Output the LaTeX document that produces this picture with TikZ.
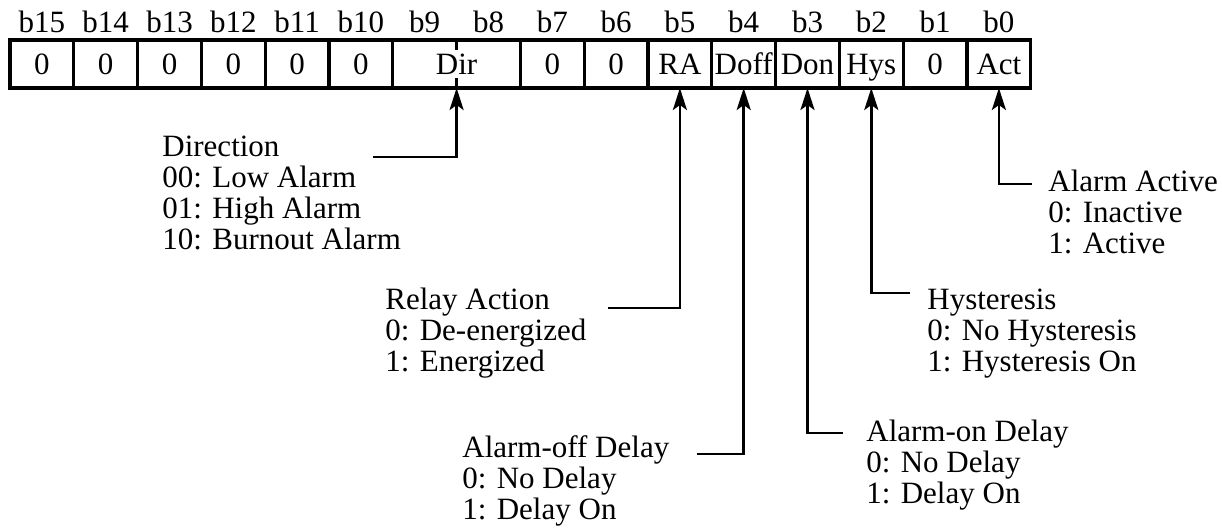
\documentclass[tikz,border=0pt]{standalone}
\usepackage{fontspec}
\setmainfont{Liberation Serif}
\usetikzlibrary{arrows.meta, positioning}

\begin{document}
\begin{tikzpicture}[
x=0.5pt, y=-0.5pt,
font=\fontsize{15.5}{15.5}\selectfont,
node distance=0pt,
box/.style={rectangle, draw=black, line width=1.6pt, outer sep=0pt, inner sep=0pt, minimum width=31.9pt, minimum height=24pt, text height=10.5pt, text depth=0pt},
widebox/.style={box, minimum width=63.8pt},
bit/.style={anchor=base, inner sep=0pt},
desc/.style={anchor=base west, align=left, inner sep=0pt},
line/.style={-{Stealth[length=11pt, width=7pt, inset=2.5pt]}, line width=1.35pt},
divider/.style={line width=1.4pt, dash pattern=on 5pt off 14pt}
]
\useasboundingbox (0,0) rectangle (1222,528);

% register cells
\node[box] (c15) at (41.9,64) {0};
\node[box, right=of c15] (c14) {0};
\node[box, right=of c14] (c13) {0};
\node[box, right=of c13] (c12) {0};
\node[box, right=of c12] (c11) {0};
\node[box, right=of c11] (c10) {0};
\node[widebox, right=of c10] (dir) {Dir};
\node[box, right=of dir] (c7) {0};
\node[box, right=of c7] (c6) {0};
\node[box, right=of c6] (c5) {RA};
\node[box, right=of c5] (c4) {Doff};
\node[box, right=of c4] (c3) {Don};
\node[box, right=of c3] (c2) {Hys};
\node[box, right=of c2] (c1) {0};
\node[box, right=of c1] (c0) {Act};

\draw[divider] (dir.north) -- (dir.south);

% bit numbers
\node[bit] (l15) at ([yshift=3.5pt]c15.north) {b15};
\node[bit] (l14) at ([yshift=3.5pt]c14.north) {b14};
\node[bit] (l13) at ([yshift=3.5pt]c13.north) {b13};
\node[bit] (l12) at ([yshift=3.5pt]c12.north) {b12};
\node[bit] (l11) at ([yshift=3.5pt]c11.north) {b11};
\node[bit] (l10) at ([yshift=3.5pt]c10.north) {b10};
\node[bit] (l9) at ([xshift=-15.95pt, yshift=3.5pt]dir.north) {b9};
\node[bit] (l8) at ([xshift=15.95pt, yshift=3.5pt]dir.north) {b8};
\node[bit] (l7) at ([yshift=3.5pt]c7.north) {b7};
\node[bit] (l6) at ([yshift=3.5pt]c6.north) {b6};
\node[bit] (l5) at ([yshift=3.5pt]c5.north) {b5};
\node[bit] (l4) at ([yshift=3.5pt]c4.north) {b4};
\node[bit] (l3) at ([yshift=3.5pt]c3.north) {b3};
\node[bit] (l2) at ([yshift=3.5pt]c2.north) {b2};
\node[bit] (l1) at ([yshift=3.5pt]c1.north) {b1};
\node[bit] (l0) at ([yshift=3.5pt]c0.north) {b0};

% field descriptions (placed by the baseline of their last line)
\node[desc] (dirtxt) at (162,250) {Direction\\00: Low Alarm\\01: High Alarm\\10: Burnout Alarm};
\node[desc] (ratxt) at (385,372) {Relay Action\\0: De-energized\\1: Energized};
\node[desc] (dofftxt) at (462,520) {Alarm-off Delay\\0: No Delay\\1: Delay On};
\node[desc] (dontxt) at (866,504) {Alarm-on Delay\\0: No Delay\\1: Delay On};
\node[desc] (hystxt) at (927,372) {Hysteresis\\0: No Hysteresis\\1: Hysteresis On};
\node[desc] (acttxt) at (1048,254) {Alarm Active\\0: Inactive\\1: Active};

% connectors
\coordinate (dirjoin) at (373,157);
\coordinate (rajoin) at (608,308);
\coordinate (doffjoin) at (697,454);
\coordinate (donjoin) at (843,433);
\coordinate (hysjoin) at (910,293);
\coordinate (actjoin) at (1032,184);

\draw[line] (dirjoin) -| (dir.south);
\draw[line] (rajoin) -| (c5.south);
\draw[line] (doffjoin) -| (c4.south);
\draw[line] (donjoin) -| (c3.south);
\draw[line] (hysjoin) -| (c2.south);
\draw[line] (actjoin) -| (c0.south);
\end{tikzpicture}
\end{document}
